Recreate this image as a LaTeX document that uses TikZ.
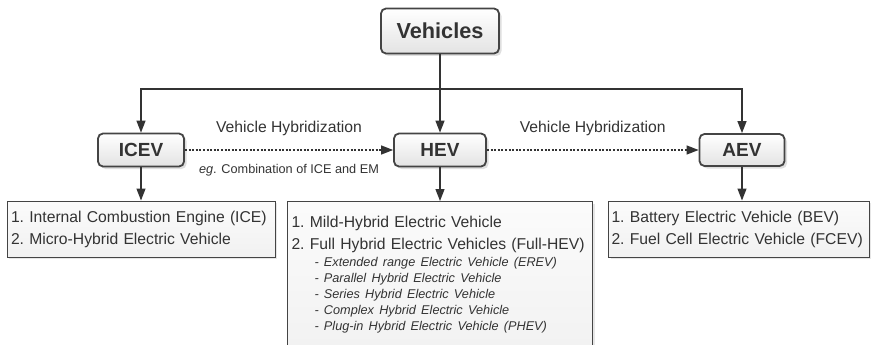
\documentclass[tikz,border=0pt]{standalone}
\usepackage{fontspec}
\setmainfont{Liberation Sans}
\usetikzlibrary{arrows.meta,shadows}

\definecolor{ink}{HTML}{333333}
\definecolor{rim}{HTML}{444444}

\tikzset{
  catbox/.style={draw=rim, line width=1.8pt, rounded corners=5pt,
    top color=white, bottom color=gray!22, text=ink, inner sep=0pt,
    drop shadow={opacity=0.25, shadow xshift=2.5pt, shadow yshift=-2.5pt},
    font=\bfseries\fontsize{19}{19}\selectfont},
  listbox/.style={draw=rim, line width=1pt, top color=gray!3, bottom color=gray!11,
    text=ink, align=left, inner xsep=4pt, inner ysep=4pt,
    drop shadow={opacity=0.2, shadow xshift=2pt, shadow yshift=-2pt},
    font=\fontsize{15.7}{22}\selectfont\frenchspacing},
  arr/.style={draw=ink, line width=1.3pt, -{Triangle[length=12pt,width=9pt]}},
  hyb/.style={arr, dash pattern=on 2pt off 1.6pt},
  lbl/.style={text=ink, font=\fontsize{15.7}{16}\selectfont}
}

\begin{document}
\begin{tikzpicture}[x=1pt,y=-1pt]
  \useasboundingbox (0,0) rectangle (871,345);
  \clip (0,0) rectangle (871,345);

  % root
  \node[catbox, font=\bfseries\fontsize{21.7}{22}\selectfont,
    minimum width=118pt, minimum height=45pt] (veh) at (440,31) {Vehicles};

  % categories
  \node[catbox, minimum width=86pt, minimum height=33pt] (icev) at (141,150) {ICEV};
  \node[catbox, minimum width=92pt, minimum height=33pt] (hev) at (440,150) {HEV};
  \node[catbox, minimum width=85pt, minimum height=32pt] (aev) at (742,150) {AEV};

  % lists under each category
  \node[listbox, text width=260pt, minimum height=56pt] (icevlist) at (141,229)
    {1. Internal Combustion Engine (ICE)\\2. Micro-Hybrid Electric Vehicle};
  \node[listbox, text width=297pt, anchor=north] (hevlist) at (440,201)
    {{\rule{0pt}{22pt}1. Mild-Hybrid Electric Vehicle\par 2. Full Hybrid Electric Vehicles (Full-HEV)\par}
     \vspace{1pt}
     {\fontsize{12.7}{16}\selectfont\itshape\leftskip=23pt
      - Extended range Electric Vehicle (EREV)\par
      - Parallel Hybrid Electric Vehicle\par
      - Series Hybrid Electric Vehicle\par
      - Complex Hybrid Electric Vehicle\par
      - Plug-in Hybrid Electric Vehicle (PHEV)\par}
     \vspace{25pt}};
  \node[listbox, inner xsep=3pt, text width=255pt, minimum height=56pt] (aevlist) at (739,229)
    {1. Battery Electric Vehicle (BEV)\\2. Fuel Cell Electric Vehicle (FCEV)};

  % tree lines
  \coordinate (split) at (440,89);
  \draw[draw=ink, line width=1.3pt] (veh) -- (split);
  \draw[arr] (split) -| (icev);
  \draw[arr] (split) -- (hev);
  \draw[arr] (split) -| (aev);

  \draw[arr] (icev) -- (icevlist);
  \draw[arr] (hev) -- (hev |- hevlist.north);
  \draw[arr] (aev) -- (aev |- aevlist.north);

  % hybridization
  \draw[hyb] (icev) -- (hev)
    node[lbl, midway, yshift=22pt] {Vehicle Hybridization}
    node[lbl, midway, yshift=-20pt, font=\fontsize{12.7}{13}\selectfont] {\textit{eg}. Combination of ICE and EM};
  \draw[hyb] (hev) -- (aev)
    node[lbl, midway, yshift=22pt] {Vehicle Hybridization};
\end{tikzpicture}
\end{document}
